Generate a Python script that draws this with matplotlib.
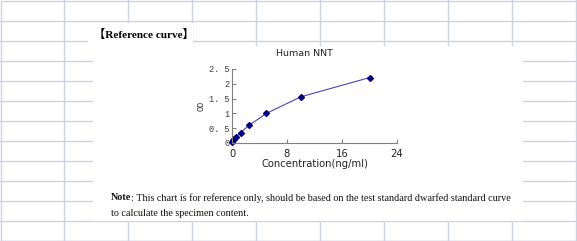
import numpy as np
import matplotlib.pyplot as plt
from matplotlib.patches import Rectangle

# standard curve data
conc = [0, 0.156, 0.3125, 0.625, 1.25, 2.5, 5, 10, 20]
od = [0.05, 0.10, 0.15, 0.21, 0.35, 0.60, 1.00, 1.56, 2.21]
xticks = [0, 8, 16, 24]
yticks = [0, 0.5, 1, 1.5, 2, 2.5]
ytick_labels = ['0', '0. 5', '1', '1. 5', '2', '2. 5']

W, H = 577, 241
fig = plt.figure(figsize=(W / 100, H / 100), dpi=100)
fig.patch.set_facecolor('white')

# spreadsheet-like background in pixel coordinates
bg = fig.add_axes([0, 0, 1, 1], zorder=0)
bg.set_xlim(0, W)
bg.set_ylim(H, 0)
bg.axis('off')
grid_c = '#cdd2e2'
for y in np.arange(20, H, 20):
    bg.plot([0, W], [y + 0.5, y + 0.5], color=grid_c, lw=1)
for x in np.arange(64, W, 64):
    bg.plot([x, x], [0, H], color=grid_c, lw=1)
bg.add_patch(Rectangle((0.5, 0.5), W - 1, H - 1, fill=False, ec=grid_c, lw=1))
bg.add_patch(Rectangle((88, 23), 105, 23, fc='white', ec='none', zorder=3))
bg.add_patch(Rectangle((93, 46), 430, 175, fc='white', ec='none', zorder=3))

bg.text(94, 34.5, '【Reference curve】', fontsize=8.1, fontweight='bold',
        family=['Liberation Serif', 'Noto Sans CJK SC'], va='center', ha='left',
        color='black', zorder=4)

note_font = ['Liberation Serif']
t = bg.text(111, 198, 'Note', fontsize=7.3, fontweight='bold', family=note_font,
            va='center', ha='left', color='#111111', zorder=4)
fig.canvas.draw()
bb = t.get_window_extent()
bg.text(111 + bb.width, 198, ': This chart is for reference only, should be based on the test '
        'standard dwarfed standard curve', fontsize=7.3, family=note_font,
        va='center', ha='left', color='#111111', zorder=4)
bg.text(111, 213, 'to calculate the specimen content.', fontsize=7.3, family=note_font,
        va='center', ha='left', color='#111111', zorder=4)

# chart
ax = fig.add_axes([232 / W, (H - 143) / H, (397 - 232) / W, (143 - 69) / H], zorder=5)
ax.patch.set_alpha(0)
ax.plot(conc, od, color='#4646b8', lw=0.8, marker='D', ms=3,
        mfc='#000080', mec='#000080', clip_on=False)
ax.set_xlim(0, 24)
ax.set_ylim(0, 2.5)
ax.set_xticks(xticks)
ax.set_yticks(yticks)
ax.set_yticklabels(ytick_labels, family='Liberation Mono', fontsize=6.2, color='#3a3a3a')
ax.set_xticklabels([str(v) for v in xticks], family='DejaVu Sans', fontsize=7.2, color='#222222')
for s in ['top', 'right']:
    ax.spines[s].set_visible(False)
for s in ['left', 'bottom']:
    ax.spines[s].set_color('#808080')
    ax.spines[s].set_linewidth(0.8)
ax.tick_params(direction='in', length=3, width=0.8, color='#808080')
ax.tick_params(axis='x', pad=4)
ax.tick_params(axis='y', pad=2)
ax.set_xlabel('Concentration(ng/ml)', family='DejaVu Sans', fontsize=7.2,
              color='#222222', labelpad=0)
ax.set_ylabel('OD', family='Liberation Mono', fontsize=6.2, color='#3a3a3a', labelpad=2)
ax.set_title('Human NNT', family='DejaVu Sans', fontsize=6.8, color='#222222', pad=9, x=0.44)

fig.savefig('out.png', dpi=100, facecolor='white')
